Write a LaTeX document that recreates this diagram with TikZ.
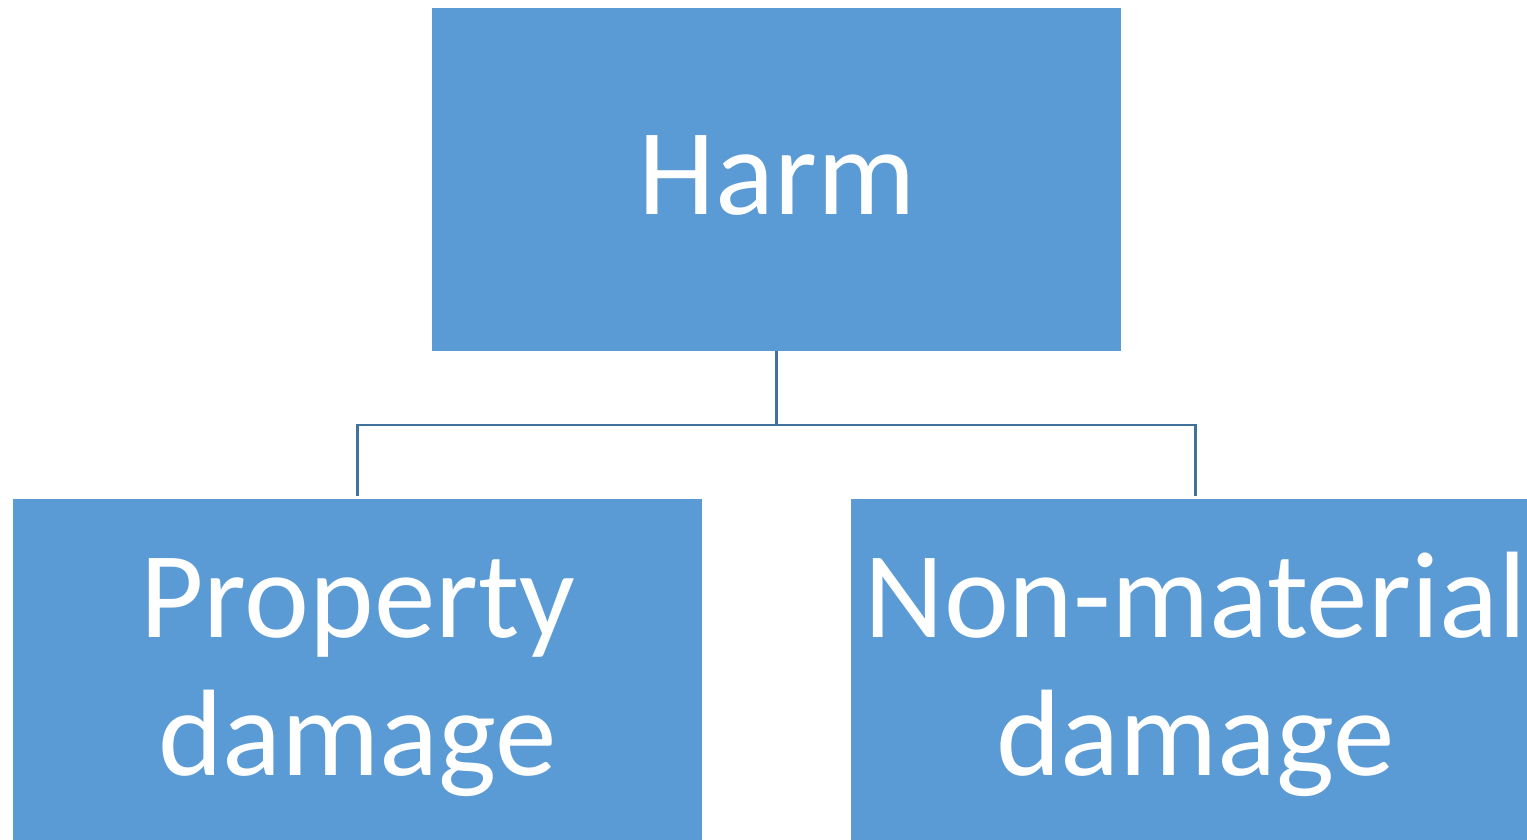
\documentclass[tikz,border=0pt]{standalone}
\usepackage{fontspec}
\setmainfont{Carlito}
\definecolor{boxblue}{HTML}{5B9BD5}
\definecolor{linkblue}{HTML}{41719C}
\begin{document}
\begin{tikzpicture}[x=1pt,y=1pt,
  box/.style={fill=boxblue,draw=none,minimum width=689pt,minimum height=343pt,inner sep=0pt},
  label/.style={text=white,font=\fontsize{123}{138}\selectfont,inner sep=0pt,anchor=base,align=center},
  conn/.style={draw=linkblue,line width=2.2pt}]
\useasboundingbox (0,0) rectangle (1527,-839);
\clip (0,0) rectangle (1527,-839);
\node[box] (top) at (776.5,-179.5) {};
\node[box] (left) at (357.5,-670.5) {};
\node[box] (right) at (1195.5,-670.5) {};
\node[label] (harmtext) at (777,-214) {Harm};
\node[label] (ltext) at (357.5,-775) {Property\\damage};
\node[label] (rtext) at (1195.5,-775) {Non-material\\damage};
\coordinate (j) at (776.5,-425);
\draw[conn] (top.south) -- (j);
\draw[conn] (j) -| ([yshift=3pt]left.north);
\draw[conn] (j) -| ([yshift=3pt]right.north);
\end{tikzpicture}
\end{document}
